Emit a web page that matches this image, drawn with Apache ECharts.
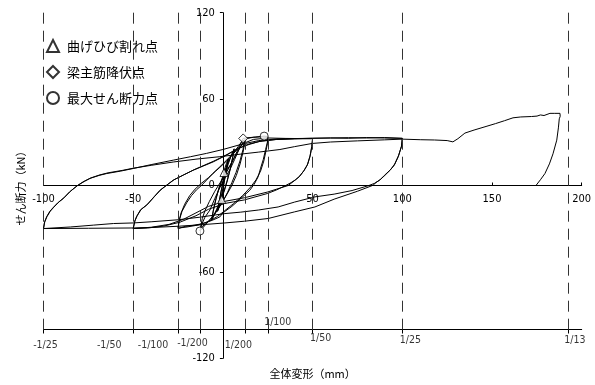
<!DOCTYPE html>
<html><head><meta charset="utf-8">
<script src="https://cdn.jsdelivr.net/npm/echarts@6/dist/echarts.min.js"></script>
<style>html,body{margin:0;padding:0;background:#fff}#c{width:595px;height:385px}</style>
</head><body><div id="c"></div>
<script>
// ---- data (x: 全体変形 mm, y: せん断力 kN) ----
const cyc800 = [[0,0],[0.3,4.5],[0.6,9],[1.2,12.5],[2,15.5],[3,18.5],[2.4,14],[1.4,7],[0.4,0],[-0.7,-9.7],[-1.4,-13],[-2.2,-15.5],[-3,-18],[-2.3,-13],[-1.3,-6],[-0.3,0],[0.8,7],[1.8,12.5],[3,18],[2.3,13],[1.2,6],[0,-2],[-1.2,-9],[-2.2,-14],[-3,-17.5],[-2.2,-12],[-1,-4],[0,2]];
const cyc400 = [[1.5,9],[3,15],[4.5,20.5],[6.25,25.5],[5.5,20],[4.2,12],[2.6,4],[1,-3],[-1,-10],[-3,-16],[-4.8,-20.5],[-6.25,-24],[-5.4,-18],[-4,-10],[-2.5,-3],[-1,3],[1,10],[3,16],[4.8,21],[6.25,25],[5.4,19],[4,11],[2.3,3],[0.5,-4],[-1.5,-10.5],[-3.5,-16.5],[-5,-20.5],[-6.25,-23.5],[-5.3,-17],[-3.8,-9],[-2.2,-2]];
const cyc200 = [[0,5],[2,10.5],[4,14],[6.5,19.5],[8.5,24],[10.5,28.5],[12,31.5],[11.2,25],[9.5,17],[7.3,9],[5,2],[2.5,-5],[0,-11],[-3,-17],[-6,-22],[-9.5,-27],[-12.8,-31.6],[-11.8,-27],[-10,-22],[-7.2,-17],[-4.5,-9],[-1.7,-1.5],[1,5],[3.9,11],[6.5,18],[9.5,26.5],[12.3,31.5],[11.4,24],[9.6,15],[7.5,7],[5,0],[2.3,-6],[-0.5,-12],[-3.5,-18],[-7,-23.5],[-10,-27],[-12.5,-29.5],[-11.5,-23],[-10,-17.5],[-7.5,-11],[-4.5,-4],[-1.5,2]];
const cyc100 = [[1.5,8],[5,16],[8,24],[10.4,30.3],[11.3,32.7],[14,33.2],[18,33.6],[23,34.3],[25,34],[24.8,30],[23.8,25],[22.5,18],[21,12],[19.7,6.2],[17.5,1],[15,-3.3],[10,-9],[5,-14.5],[0,-19],[-1.7,-21.8],[-6,-24.2],[-11,-26.4],[-16,-27.6],[-21,-28.4],[-25,-29.9],[-24.3,-24],[-22.8,-18],[-20.2,-12],[-17.5,-7],[-14.7,-3],[-12,0],[-9.1,3.7],[-5.5,8.5],[-1.7,13],[2,17.5],[5.7,22.3],[8.5,27],[10.4,30.3],[13,32.5],[17,33.5],[21,33.8],[25,33.5],[24.8,29],[24,24],[22.8,17],[21,10],[18.5,4],[15.5,-1],[11,-7],[6,-12.5],[1,-17.5],[-3,-21.5],[-8,-25],[-14,-27.5],[-20,-28.8],[-25,-29.6],[-24.5,-25],[-23.3,-19],[-21.3,-13],[-18.5,-7],[-15.5,-2.5],[-12,1.5],[-8,5.5],[-4,10],[0,14.5],[4,19.5],[8,25],[12,29.5],[17,32],[25,33],[35,32.7]];
const cyc50 = [[50,32.5],[49.5,27],[48.5,20],[47,14],[45,10],[42.5,6],[40,3.5],[36.4,0],[30,-2.5],[25,-4.5],[12,-8.5],[1,-11],[-8,-14.5],[-15,-19],[-22,-23.5],[-30,-27],[-40,-29],[-50,-29.9],[-49.2,-25],[-48.2,-21.8],[-46,-17],[-42.5,-13.7],[-38.5,-8],[-35.1,-3.3],[-31.4,0.2],[-27.7,3.7],[-22,7.3],[-16.6,10.6],[-11,13.5],[-5.4,16.4],[2,21.1],[8,25.5],[15,29],[22,31],[30,32],[40,32.4],[50,32.6],[49.6,27],[48.7,21],[47.3,15],[45.3,10.5],[42.8,6.5],[40.5,4],[38,2],[35,0],[30,-3],[25,-5.5],[12,-10],[1,-12.5],[-8,-16.5],[-15,-21],[-24,-25.5],[-33,-28.2],[-42,-29.5],[-50,-29.9]];
const cyc25 = [[-49,-24.5],[-47.8,-21],[-45.5,-16.5],[-42,-13],[-38,-7.5],[-34.6,-3],[-31,0.5],[-27.2,4],[-21.5,7.6],[-16,11],[-10.5,14],[-5,17],[0,20],[6,24],[12,27.5],[20,30.5],[30,32],[40,32.5],[50,32.8],[60,33],[70,32.8],[80,33.3],[90,33],[100,32.7],[99.5,27],[97.7,19.9],[95.5,14],[93.1,10.6],[90,7],[87.4,3.7],[84.5,1.5],[81.4,0],[72,-3.5],[62,-6],[51.3,-7.9],[40,-11.5],[30.8,-14.9],[20,-17],[10,-18.5],[1.1,-19.5],[-12.8,-22],[-25,-23.8],[-40,-25.2],[-50,-26],[-61,-26.4],[-72,-27.5],[-85,-28.8],[-100,-29.9],[-99.5,-26],[-98.3,-21.8],[-96.5,-18],[-94.6,-15.3],[-92,-12],[-89,-9],[-85.5,-4.5],[-81.6,-0.5],[-78,2.5],[-74.2,4.9],[-69,7],[-64.8,8.3],[-57,10],[-50,11.8],[-40,14.5],[-27.7,17.6],[-18,20],[-9.1,22.3],[0,25],[10,28.5],[20,31.2],[30,32.3],[40,32.6],[50,32.8],[60,33],[70,33.2],[80,33],[90,33.3],[100,32.8],[99.6,27.5],[98,21],[95.8,15],[93.5,11],[90.5,7.3],[87.8,4.2],[85,1.8],[83.8,0.2],[75,-4],[62,-9.5],[51.3,-14.9],[40,-18.3],[25.3,-22.9],[12,-24.8],[1.1,-26],[-12.5,-27.3],[-25,-28.3],[-40,-29.2],[-50,-29.5],[-75,-29.7],[-100,-29.9]];
const push = [[-99.3,-25],[-98,-21.5],[-96.2,-17.8],[-94.2,-15],[-91.5,-11.5],[-88.5,-8.5],[-85,-4],[-81,0],[-77,3],[-73.5,5.3],[-68.5,7.4],[-64,8.8],[-56,10.5],[-50,12],[-40,14],[-27.7,16.3],[-15,18.3],[-1.7,20],[10,21.8],[20,23.2],[31.8,25],[40,27],[49.8,29.2],[60,30.2],[75,31],[90,31.7],[100,32.2],[110,31.8],[118,31.6],[125,31.2],[128.2,30.3],[131,32.5],[134.9,36.4],[140,38.5],[147.2,41.2],[152,43],[157,45],[161.7,47],[166,47.6],[172,47.9],[175.1,48.2],[177,49],[179,48.6],[182.3,50.1],[185,50.1],[187.9,50.1],[188,48],[187.5,46.3],[187,40],[186.1,31.5],[184,22],[182,15],[179.5,8.3],[177,4],[174.5,0]];

const crackPts = [[0.6,9.0],[-0.7,-9.7]];
const yieldPts = [[11.3,32.7]];
const maxPts = [[23,34.3],[-12.8,-31.6]];

const driftMM = [-100,-50,-25,-12.5,12.5,25,50,100,192.3];
const driftLabels = ['-1/25','-1/50','-1/100','-1/200','1/200','1/100','1/50','1/25','1/13'];
const xTickLabels = ['-100','-50','','50','100','150','200'];
const seriesNames = ['曲げひび割れ点','梁主筋降伏点','最大せん断力点'];
const xTitle = '全体変形（mm）';
const yTitle = 'せん断力（kN）';
const xMin = -100, xMax = 200, yMin = -120, yMax = 120, driftAxisY = -100;

// ---- style / layout ----
const G = {left:43.5, right:13.3, top:12.7, bottom:26.7};
const W = 595, H = 385;
const gw = W - G.left - G.right, gh = H - G.top - G.bottom;
// pixel offsets that put the main axes through zero and the drift axis at y = -100
const xAxisOffset = -gh * (0 - yMin) / (yMax - yMin);
const driftOffset = -gh * (driftAxisY - yMin) / (yMax - yMin);
const yAxisOffset = -gw * (0 - xMin) / (xMax - xMin);
const labelOffsets = [[2,16],[-24,16],[-25,16],[-8,14],[-7,16],[10,-7],[8,9],[8,11],[7,11]];
const numFont = "'Liberation Sans Narrow','DejaVu Sans Condensed',sans-serif";
const jpFont = "'Noto Sans CJK JP',sans-serif";

const hyst = [].concat(cyc800, cyc400, cyc200, cyc100, cyc50, cyc25, push);
const markerStyle = {color:'#fff', borderColor:'#000', borderWidth:1};

const chart = echarts.init(document.getElementById('c'), null, {renderer:'canvas'});
chart.setOption({
  animation:false,
  backgroundColor:'#fff',
  grid:Object.assign({containLabel:false, outerBoundsMode:'none'}, G),
  legend:{
    orient:'vertical', left:41, top:34, itemWidth:12, itemHeight:12, itemGap:12,
    data:seriesNames,
    textStyle:{fontSize:13, fontFamily:jpFont, color:'#000', padding:[0,0,0,3]}
  },
  xAxis:[{
    type:'value', min:xMin, max:xMax, interval:50, position:'bottom', offset:xAxisOffset,
    axisLine:{onZero:false, lineStyle:{color:'#000', width:1}},
    axisTick:{inside:true, length:3, lineStyle:{color:'#000'}},
    axisLabel:{margin:8, fontSize:11, fontFamily:numFont, color:'#000',
      formatter:(v)=>xTickLabels[Math.round((v-xMin)/50)] || ''},
    splitLine:{show:false}
  },{
    type:'value', min:xMin, max:xMax, position:'bottom', offset:driftOffset,
    axisLine:{onZero:false, lineStyle:{color:'#000', width:1}},
    axisTick:{show:true, length:4, customValues:driftMM, lineStyle:{color:'#000'}},
    axisLabel:{show:false},
    splitLine:{show:false},
    name:xTitle, nameLocation:'middle', nameGap:39,
    nameTextStyle:{fontSize:11, fontFamily:jpFont, color:'#000'}
  }],
  yAxis:{
    type:'value', min:yMin, max:yMax, interval:60, position:'left', offset:yAxisOffset,
    axisLine:{onZero:false, lineStyle:{color:'#000', width:1}},
    axisTick:{length:3, lineStyle:{color:'#000'}},
    axisLabel:{margin:8, fontSize:11, fontFamily:numFont, color:'#000'},
    splitLine:{show:false},
    name:yTitle, nameLocation:'middle', nameGap:197, nameRotate:90,
    nameTextStyle:{fontSize:11, fontFamily:jpFont, color:'#000'}
  },
  series:[
    {
      type:'line', name:'hysteresis', data:hyst, symbol:'none', smooth:false,
      lineStyle:{color:'#000', width:1}, z:3, silent:true,
      markLine:{
        silent:true, symbol:'none', label:{show:false},
        lineStyle:{color:'#333', width:1, type:[11,7]},
        data: driftMM.map(x=>[{coord:[x,yMax]},{coord:[x,driftAxisY]}])
      }
    },
    {
      type:'scatter', name:'driftLabels', data:driftMM.map((x,i)=>({
        value:[x,driftAxisY],
        label:{show:true, formatter:driftLabels[i], offset:labelOffsets[i], position:'inside'}
      })),
      symbolSize:0, silent:true,
      label:{fontSize:10.5, fontFamily:numFont, color:'#000'}
    },
    {type:'scatter', name:seriesNames[0], data:crackPts, symbol:'triangle', symbolSize:8, itemStyle:markerStyle, z:5},
    {type:'scatter', name:seriesNames[1], data:yieldPts, symbol:'diamond', symbolSize:9, itemStyle:markerStyle, z:5},
    {type:'scatter', name:seriesNames[2], data:maxPts, symbol:'circle', symbolSize:8, itemStyle:markerStyle, z:5}
  ]
});
</script></body></html>
